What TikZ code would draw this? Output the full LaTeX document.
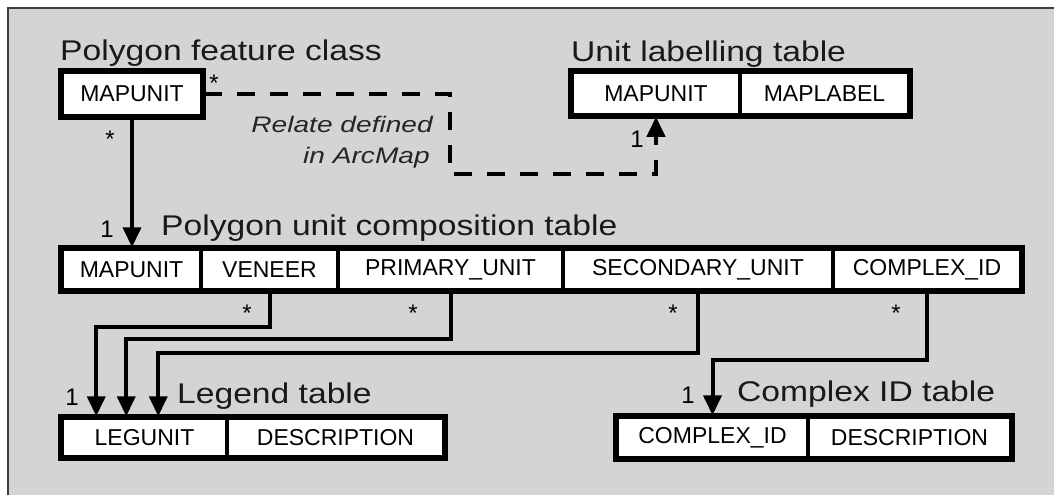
\documentclass[tikz,border=0pt]{standalone}
\usepackage{fontspec}
\setmainfont{Liberation Sans}
\newfontfamily\titlefont[FakeStretch=1.18]{Liberation Sans}
\newfontfamily\notefont[FakeStretch=1.25]{Liberation Sans}
\usetikzlibrary{arrows.meta,calc}
\definecolor{bgc}{RGB}{212,212,212}
\definecolor{bordc}{RGB}{60,60,60}
\begin{document}
\begin{tikzpicture}[x=1pt,y=-1pt,
  fld/.style={draw=black,fill=white,line width=3.5pt,rectangle,inner sep=0pt,
    font=\fontsize{23}{27}\selectfont},
  tframe/.style={draw=black,line width=5pt},
  title/.style={font=\titlefont\fontsize{28.5}{32}\selectfont,inner sep=0pt,text=black!90},
  note/.style={font=\notefont\itshape\fontsize{22.5}{26}\selectfont,inner sep=0pt,text=black!85},
  mult/.style={font=\fontsize{24}{28}\selectfont,inner sep=0pt,anchor=base},
  one/.style={font=\fontsize{24}{28}\selectfont,inner sep=0pt,anchor=base},
  conn/.style={draw=black,line width=4pt,-{Triangle[length=20pt,width=18pt]}},
  dconn/.style={conn,dash pattern=on 18pt off 15pt}]
\useasboundingbox (0,0) rectangle (1054,495);
\fill[bgc] (8,8) rectangle (1054,495);
\draw[bordc,line width=2pt] (8,495) -- (8,8) -- (1054,8);

% titles
\node[title,anchor=base west] (t1) at (60,60) {Polygon feature class};
\node[title,anchor=base west] (t2) at (571,61) {Unit labelling table};
\node[title,anchor=base west] (t3) at (161,235) {Polygon unit composition table};
\node[title,anchor=base west] (t4) at (177,403) {Legend table};
\node[title,anchor=base west] (t5) at (737,401) {Complex ID table};

% polygon feature class
\node[fld,minimum width=140pt,minimum height=44pt] (pm) at (132,94) {MAPUNIT};
\draw[tframe] (pm.north west) rectangle (pm.south east);

% unit labelling table
\node[fld,minimum width=168pt,minimum height=43pt] (lm) at (656,93.5) {MAPUNIT};
\node[fld,minimum width=169pt,minimum height=43pt] (ll) at (824.5,93.5) {MAPLABEL};
\draw[tframe] (lm.north west) rectangle (ll.south east);

% composition table
\node[fld,minimum width=139pt,minimum height=41pt] (cm) at (131.5,269.5) {MAPUNIT};
\node[fld,minimum width=137pt,minimum height=41pt] (cv) at (269.5,269.5) {VENEER};
\node[fld,minimum width=225pt,minimum height=41pt] (cp) at (450.5,269.5) {PRIMARY\_UNIT};
\node[fld,minimum width=270pt,minimum height=41pt] (cs) at (698,269.5) {SECONDARY\_UNIT};
\node[fld,minimum width=188pt,minimum height=41pt] (cc) at (927,269.5) {COMPLEX\_ID};
\draw[tframe] (cm.north west) rectangle (cc.south east);

% legend table
\node[fld,minimum width=165pt,minimum height=39pt] (lg) at (144.5,437.5) {LEGUNIT};
\node[fld,minimum width=217pt,minimum height=39pt] (ld) at (335.5,437.5) {DESCRIPTION};
\draw[tframe] (lg.north west) rectangle (ld.south east);

% complex id table
\node[fld,minimum width=191pt,minimum height=41pt] (cx) at (712.5,437.5) {COMPLEX\_ID};
\node[fld,minimum width=203pt,minimum height=41pt] (cd) at (909.5,437.5) {DESCRIPTION};
\draw[tframe] (cx.north west) rectangle (cd.south east);

% connectors
\draw[conn] (pm.south) -- (pm.south |- cm.north);
\draw[dconn] (pm.east) -- ++(246,0) |- ($(lm.south)+(0,57)$) -- (lm.south);
\draw[conn] (cv.south) -- ++(0,35) -| ($(lg.north west)+(36,0)$);
\draw[conn] (cp.south) -- ++(0,47) -| ($(lg.north west)+(66,0)$);
\draw[conn] (cs.south) -- ++(0,61) -| ($(lg.north west)+(98,0)$);
\draw[conn] (cc.south) -- ++(0,68) -| (cx.north);

% notes
\node[note,anchor=base east] (n1) at (433,132) {Relate defined};
\node[note,anchor=base east] (n2) at (430,163) {in ArcMap};

% multiplicities
\node[mult] (s1) at (214,91) {*};
\node[mult] (s2) at (110,147) {*};
\node[mult] (s3) at (247,321) {*};
\node[mult] (s4) at (413,321) {*};
\node[mult] (s5) at (673,321) {*};
\node[mult] (s6) at (896,321) {*};
\node[one] (o1) at (107,237) {1};
\node[one] (o2) at (637,147) {1};
\node[one] (o3) at (72,405) {1};
\node[one] (o4) at (688,403) {1};
\end{tikzpicture}
\end{document}
